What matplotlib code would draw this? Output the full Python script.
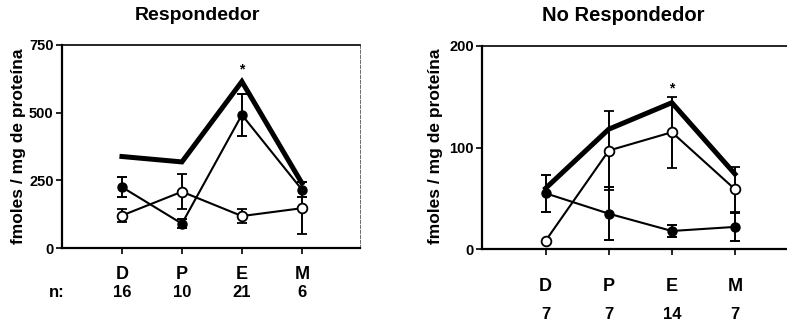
import matplotlib
matplotlib.use("Agg")
import matplotlib.pyplot as plt
from matplotlib import transforms

plt.rcParams['font.family'] = ['Liberation Sans', 'DejaVu Sans']
plt.rcParams['font.weight'] = 'bold'

fases = ['D', 'P', 'E', 'M']
x = [1, 2, 3, 4]

# Respondedor
resp_n = ['16', '10', '21', '6']
resp_total = [338, 318, 615, 240]
resp_llenos = [225, 90, 492, 216]
resp_llenos_err = [38, 17, 78, 26]
resp_vacios = [120, 208, 118, 147]
resp_vacios_err = [23, 65, 27, 97]

# No respondedor
nores_n = ['7', '7', '14', '7']
nores_total = [60, 118, 144, 74]
nores_llenos = [55, 35, 18, 22]
nores_llenos_err = [18, 26, 5.5, 14]
nores_vacios = [8.5, 97, 115, 59]
nores_vacios_err = [0, 39, 35, 22]

fig = plt.figure(figsize=(7.87, 3.28), dpi=100)


def panel(ax, total, llenos, llenos_err, vacios, vacios_err, ymax, yticks, xlim, star_y):
    ax.plot(x, total, color='black', lw=3.6, solid_joinstyle='miter', zorder=3)
    ax.errorbar(x, llenos, yerr=llenos_err, color='black', lw=1.5, marker='o',
                ms=6.5, mfc='black', mec='black', elinewidth=1.4, capsize=3.5,
                capthick=1.4, zorder=4)
    ax.errorbar(x, vacios, yerr=vacios_err, color='black', lw=1.5, marker='o',
                ms=7, mfc='white', mec='black', mew=1.3, elinewidth=1.4,
                capsize=3.5, capthick=1.4, zorder=5)
    ax.text(3, star_y, '*', ha='center', va='center', fontsize=10)
    ax.set_xlim(*xlim)
    ax.set_ylim(0, ymax)
    ax.set_yticks(yticks)
    ax.set_yticklabels([str(t) for t in yticks], fontsize=10.5, fontweight='bold')
    ax.set_xticks(x)
    ax.set_xticklabels([])
    ax.tick_params(axis='both', direction='out', length=4, width=1.2, pad=2)
    for s in ['left', 'bottom']:
        ax.spines[s].set_linewidth(1.6)
    ax.spines['top'].set_linewidth(1.2)
    ax.spines['right'].set_linewidth(0.6)
    ax.spines['right'].set_color('#555555')
    ax.spines['right'].set_linestyle((0, (4, 2)))


# panel izquierdo
ax1 = fig.add_axes([62 / 787, 80 / 328, 298 / 787, 203 / 328])
panel(ax1, resp_total, resp_llenos, resp_llenos_err, resp_vacios, resp_vacios_err,
      750, [0, 250, 500, 750], (0, 4.97), 660)
t1 = transforms.blended_transform_factory(ax1.transData, fig.transFigure)
for xi, f, n in zip(x, fases, resp_n):
    ax1.text(xi, 0.162, f, transform=t1, ha='center', va='center', fontsize=13, clip_on=False)
    ax1.text(xi, 0.107, n, transform=t1, ha='center', va='center', fontsize=12, clip_on=False)
fig.text(49 / 787, 0.107, 'n:', ha='left', va='center', fontsize=12)
fig.text(197 / 787, 0.952, 'Respondedor', ha='center', va='center', fontsize=14)
fig.text(19 / 787, 0.555, 'fmoles / mg de proteína', rotation=90, ha='center',
         va='center', fontsize=12.5)

# panel derecho
ax2 = fig.add_axes([482 / 787, 78.7 / 328, 316 / 787, 203.6 / 328])
panel(ax2, nores_total, nores_llenos, nores_llenos_err, nores_vacios, nores_vacios_err,
      200, [0, 100, 200], (-0.01, 5), 158)
t2 = transforms.blended_transform_factory(ax2.transData, fig.transFigure)
for xi, f, n in zip(x, fases, nores_n):
    ax2.text(xi, 0.128, f, transform=t2, ha='center', va='center', fontsize=13, clip_on=False)
    ax2.text(xi, 0.04, n, transform=t2, ha='center', va='center', fontsize=12, clip_on=False)
fig.text(623 / 787, 0.952, 'No Respondedor', ha='center', va='center', fontsize=14.5)
fig.text(435 / 787, 0.555, 'fmoles / mg de proteína', rotation=90, ha='center',
         va='center', fontsize=12.5)

fig.savefig('out.png', dpi=100)
